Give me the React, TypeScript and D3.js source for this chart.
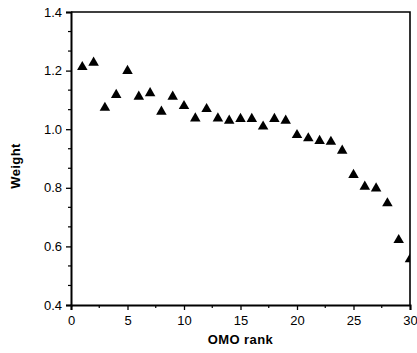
import React, { useRef, useEffect } from 'react';
import * as d3 from 'd3';

const ranks = [1, 2, 3, 4, 5, 6, 7, 8, 9, 10, 11, 12, 13, 14, 15, 16, 17, 18, 19, 20, 21, 22, 23, 24, 25, 26, 27, 28, 29, 30];
const weights = [1.212, 1.227, 1.073, 1.117, 1.199, 1.111, 1.123, 1.06, 1.111, 1.079, 1.037, 1.069, 1.037, 1.029, 1.035, 1.035, 1.009, 1.035, 1.029, 0.98, 0.969, 0.96, 0.957, 0.927, 0.844, 0.804, 0.798, 0.747, 0.622, 0.556];
const xTicks = [0, 5, 10, 15, 20, 25, 30];
const yTicks = [0.4, 0.6, 0.8, 1.0, 1.2, 1.4];

const App = () => {
  const svgRef = useRef<SVGSVGElement>(null);

  useEffect(() => {
    const svg = d3.select(svgRef.current);
    svg.selectAll('*').remove();

    const left = 71, right = 410, top = 12, bottom = 305;
    const x = d3.scaleLinear().domain([0, 30]).range([left, right]);
    const y = d3.scaleLinear().domain([0.4, 1.4]).range([bottom, top]);
    const font = '"Liberation Sans", Arial, sans-serif';

    svg.append('defs').append('clipPath').attr('id', 'plot')
      .append('rect').attr('x', left).attr('y', top).attr('width', right - left).attr('height', bottom - top);

    // minor ticks
    const yMinor = d3.range(0, 16).map(i => 0.4 + i / 15).filter(v => !yTicks.some(t => Math.abs(t - v) < 1e-6));
    svg.append('g').selectAll('line').data(yMinor).join('line')
      .attr('x1', left - 3).attr('x2', left)
      .attr('y1', d => y(d)).attr('y2', d => y(d))
      .attr('stroke', '#000').attr('stroke-width', 1.2);
    const xMinor = d3.range(2.5, 30, 5);
    svg.append('g').selectAll('line').data(xMinor).join('line')
      .attr('x1', d => x(d)).attr('x2', d => x(d))
      .attr('y1', bottom).attr('y2', bottom + 3)
      .attr('stroke', '#000').attr('stroke-width', 1.2);

    const xAxis = d3.axisBottom(x).tickValues(xTicks).tickSize(5).tickPadding(6).tickFormat(d3.format('d'));
    const yAxis = d3.axisLeft(y).tickValues(yTicks).tickSize(5).tickPadding(4).tickFormat(d3.format('.1f'));

    const gx = svg.append('g').attr('transform', `translate(0,${bottom})`).call(xAxis);
    const gy = svg.append('g').attr('transform', `translate(${left},0)`).call(yAxis);
    [gx, gy].forEach(g => {
      g.select('.domain').attr('stroke', '#000').attr('stroke-width', 2);
      g.selectAll('.tick line').attr('stroke', '#000').attr('stroke-width', 1.3);
      g.selectAll('.tick text').attr('fill', '#000').style('font-family', font).style('font-size', '13px');
    });

    // frame top and right
    svg.append('path')
      .attr('d', `M${left},${top}H${right}V${bottom}`)
      .attr('fill', 'none').attr('stroke', '#000').attr('stroke-width', 1.6);

    const tri = d3.symbol().type(d3.symbolTriangle).size(48);
    svg.append('g').attr('clip-path', 'url(#plot)')
      .selectAll('path').data(ranks).join('path')
      .attr('transform', (d, i) => `translate(${x(d)},${y(weights[i])})`)
      .attr('d', tri)
      .attr('fill', '#000');

    svg.append('text')
      .attr('x', (left + right) / 2).attr('y', 344)
      .attr('text-anchor', 'middle')
      .style('font-family', font).style('font-size', '13px').style('font-weight', 'bold')
      .style('letter-spacing', '0.4px')
      .text('OMO rank');

    svg.append('text')
      .attr('transform', 'translate(20,166) rotate(-90)')
      .attr('text-anchor', 'middle')
      .style('font-family', font).style('font-size', '13px').style('font-weight', 'bold')
      .style('letter-spacing', '0.4px')
      .text('Weight');
  }, []);

  return (
    <svg ref={svgRef} width={417} height={353}
      style={{ position: 'absolute', left: 0, top: 0, background: '#fff' }} />
  );
};

export default App;
